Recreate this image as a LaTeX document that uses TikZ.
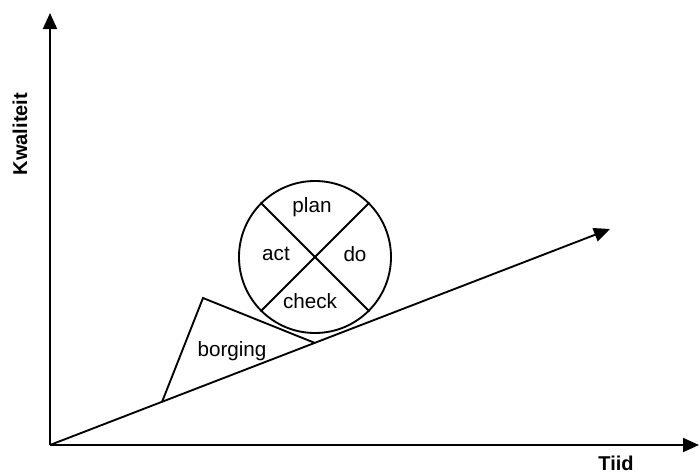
\documentclass[tikz,border=0pt]{standalone}
\usepackage{fontspec}
\setmainfont{Liberation Sans}
\usetikzlibrary{arrows.meta}

\begin{document}
\begin{tikzpicture}[
  x=0.75pt, y=-0.75pt, >={Triangle[length=12pt, width=10.5pt]},
  axis/.style={line width=1.4pt, ->},
  edge/.style={line width=1.4pt},
  axislbl/.style={font=\fontsize{15pt}{17pt}\selectfont\bfseries, inner sep=0pt},
  lbl/.style={font=\fontsize{15.5pt}{18pt}\selectfont, inner sep=0pt},
]
\useasboundingbox (0,0) rectangle (700,475);

% axes
\coordinate (o) at (50,445);
\coordinate (ytip) at (50,13);
\coordinate (xtip) at (699,445);
\coordinate (trend) at (610,229);
\draw[axis] (o) -- (ytip);
\draw[axis] (o) -- (xtip);
\draw[axis] (o) -- (trend);
\node[axislbl, rotate=90] (ylbl) at (20,134) {Kwaliteit};
\node[axislbl] (xlbl) at (616,463) {Tiid};

% wedge
\coordinate (w1) at (162,402);
\coordinate (w2) at (203,298);
\coordinate (w3) at (315,343);
\draw[edge, line join=miter] (w1) -- (w2) -- (w3);
\node[lbl] (borg) at (232,351) {borging};

% pdca wheel
\node[circle, draw, line width=1.4pt, minimum size=114pt, inner sep=0pt] (pdca) at (315,257) {};
\draw[edge] (pdca.135) -- (pdca.-45);
\draw[edge] (pdca.45) -- (pdca.-135);
\node[lbl] (plan) at (312,207) {plan};
\node[lbl] (act) at (276,254) {act};
\node[lbl] (do) at (355,254) {do};
\node[lbl] (check) at (310,301) {check};
\end{tikzpicture}
\end{document}
